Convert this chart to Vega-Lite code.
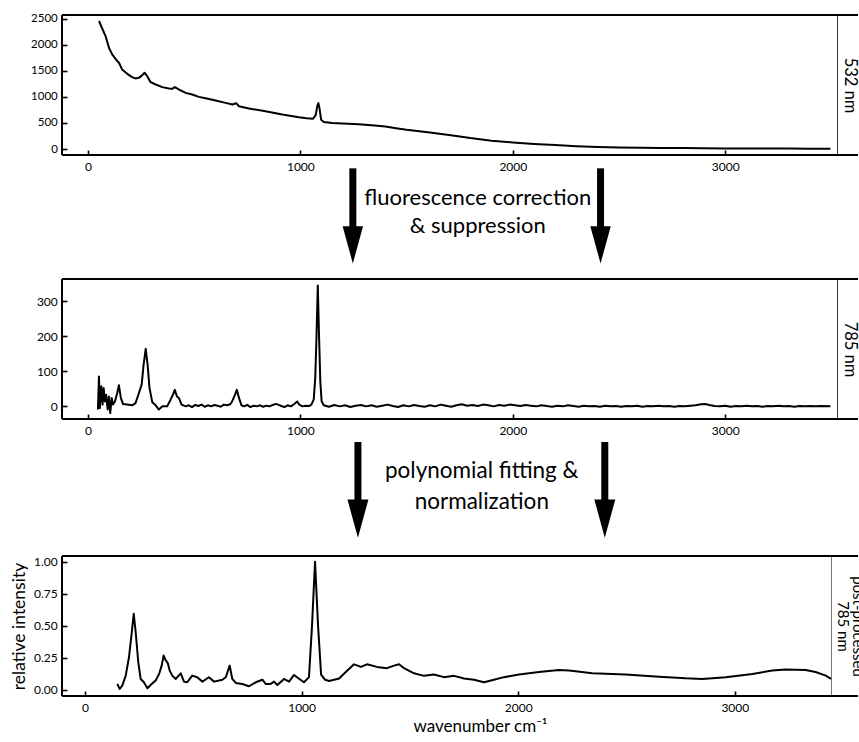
{
  "$schema": "https://vega.github.io/schema/vega-lite/v6.json",
  "padding": {"left": 10, "top": 12, "right": 0, "bottom": 0},
  "background": "white",
  "spacing": 0,
  "bounds": "flush",
  "config": {
    "font": "Lato",
    "view": {"stroke": null},
    "axis": {
      "grid": false,
      "labelFont": "Lato",
      "labelColor": "black",
      "labelFontSize": 12,
      "tickColor": "black",
      "tickSize": 5,
      "tickWidth": 1.6,
      "offset": -5,
      "domain": false,
      "titleFont": "Lato",
      "titleFontWeight": "normal",
      "titleColor": "black"
    }
  },
  "datasets": {
    "p1": [
      {"wn": 52, "v": 2456}, {"wn": 83, "v": 2167}, {"wn": 99, "v": 1942}, {"wn": 114, "v": 1815},
      {"wn": 138, "v": 1687}, {"wn": 146, "v": 1654}, {"wn": 161, "v": 1527}, {"wn": 185, "v": 1442},
      {"wn": 208, "v": 1379}, {"wn": 224, "v": 1354}, {"wn": 240, "v": 1365}, {"wn": 256, "v": 1417},
      {"wn": 267, "v": 1462}, {"wn": 279, "v": 1398}, {"wn": 295, "v": 1283}, {"wn": 319, "v": 1238},
      {"wn": 350, "v": 1187}, {"wn": 381, "v": 1161}, {"wn": 397, "v": 1154}, {"wn": 409, "v": 1187},
      {"wn": 428, "v": 1142}, {"wn": 460, "v": 1077}, {"wn": 491, "v": 1046}, {"wn": 522, "v": 1000},
      {"wn": 554, "v": 975}, {"wn": 601, "v": 931}, {"wn": 648, "v": 885}, {"wn": 680, "v": 854},
      {"wn": 698, "v": 879}, {"wn": 711, "v": 821}, {"wn": 758, "v": 777}, {"wn": 836, "v": 725},
      {"wn": 915, "v": 662}, {"wn": 993, "v": 610}, {"wn": 1030, "v": 590}, {"wn": 1060, "v": 580},
      {"wn": 1072, "v": 650}, {"wn": 1080, "v": 830}, {"wn": 1085, "v": 880}, {"wn": 1090, "v": 780},
      {"wn": 1098, "v": 560}, {"wn": 1110, "v": 520}, {"wn": 1150, "v": 500}, {"wn": 1200, "v": 490},
      {"wn": 1275, "v": 475}, {"wn": 1350, "v": 450}, {"wn": 1400, "v": 430}, {"wn": 1450, "v": 400},
      {"wn": 1500, "v": 370}, {"wn": 1600, "v": 320}, {"wn": 1700, "v": 270}, {"wn": 1800, "v": 210},
      {"wn": 1900, "v": 160}, {"wn": 2000, "v": 125}, {"wn": 2100, "v": 98}, {"wn": 2200, "v": 75},
      {"wn": 2300, "v": 55}, {"wn": 2400, "v": 40}, {"wn": 2500, "v": 30}, {"wn": 2600, "v": 24},
      {"wn": 2700, "v": 20}, {"wn": 2800, "v": 17}, {"wn": 2900, "v": 14}, {"wn": 3000, "v": 12},
      {"wn": 3100, "v": 10}, {"wn": 3200, "v": 9}, {"wn": 3300, "v": 8}, {"wn": 3400, "v": 7},
      {"wn": 3495, "v": 6}
    ],
    "p2": [
      {"wn": 47, "v": -9}, {"wn": 52, "v": 85}, {"wn": 56, "v": -5}, {"wn": 63, "v": 57},
      {"wn": 69, "v": 5}, {"wn": 74, "v": 52}, {"wn": 80, "v": 14}, {"wn": 86, "v": 33},
      {"wn": 93, "v": -9}, {"wn": 99, "v": 28}, {"wn": 105, "v": -19}, {"wn": 112, "v": 24},
      {"wn": 118, "v": 5}, {"wn": 127, "v": 14}, {"wn": 138, "v": 38}, {"wn": 146, "v": 60},
      {"wn": 155, "v": 24}, {"wn": 165, "v": 7}, {"wn": 185, "v": 5}, {"wn": 208, "v": 3},
      {"wn": 224, "v": 9}, {"wn": 240, "v": 38}, {"wn": 253, "v": 62}, {"wn": 262, "v": 118},
      {"wn": 272, "v": 164}, {"wn": 281, "v": 118}, {"wn": 290, "v": 52}, {"wn": 303, "v": 12},
      {"wn": 319, "v": 3}, {"wn": 334, "v": -9}, {"wn": 350, "v": 0}, {"wn": 373, "v": 0},
      {"wn": 389, "v": 19}, {"wn": 400, "v": 33}, {"wn": 409, "v": 47}, {"wn": 419, "v": 28},
      {"wn": 428, "v": 24}, {"wn": 441, "v": 5}, {"wn": 460, "v": 0}, {"wn": 475, "v": 3},
      {"wn": 490, "v": -2}, {"wn": 505, "v": 4}, {"wn": 520, "v": 1}, {"wn": 535, "v": 5},
      {"wn": 550, "v": -1}, {"wn": 565, "v": 3}, {"wn": 580, "v": 0}, {"wn": 595, "v": 4},
      {"wn": 610, "v": 2}, {"wn": 625, "v": -1}, {"wn": 640, "v": 5}, {"wn": 655, "v": 3},
      {"wn": 670, "v": 6}, {"wn": 679, "v": 14}, {"wn": 692, "v": 33}, {"wn": 701, "v": 47},
      {"wn": 711, "v": 24}, {"wn": 723, "v": 3}, {"wn": 735, "v": 0}, {"wn": 750, "v": 4},
      {"wn": 765, "v": -2}, {"wn": 780, "v": 2}, {"wn": 795, "v": 0}, {"wn": 810, "v": 3},
      {"wn": 825, "v": -1}, {"wn": 840, "v": 2}, {"wn": 855, "v": 0}, {"wn": 870, "v": 4},
      {"wn": 885, "v": 7}, {"wn": 895, "v": 5}, {"wn": 910, "v": 1}, {"wn": 925, "v": -2},
      {"wn": 940, "v": 3}, {"wn": 955, "v": 0}, {"wn": 970, "v": 6}, {"wn": 985, "v": 14},
      {"wn": 995, "v": 5}, {"wn": 1010, "v": 0}, {"wn": 1025, "v": 2}, {"wn": 1040, "v": 1},
      {"wn": 1052, "v": 5}, {"wn": 1063, "v": 20}, {"wn": 1070, "v": 80}, {"wn": 1076, "v": 200},
      {"wn": 1082, "v": 344}, {"wn": 1088, "v": 200}, {"wn": 1094, "v": 70}, {"wn": 1100, "v": 15},
      {"wn": 1110, "v": 3}, {"wn": 1135, "v": -1}, {"wn": 1160, "v": 4}, {"wn": 1185, "v": 0},
      {"wn": 1210, "v": 3}, {"wn": 1235, "v": -2}, {"wn": 1260, "v": 2}, {"wn": 1285, "v": 4},
      {"wn": 1310, "v": 0}, {"wn": 1335, "v": 3}, {"wn": 1360, "v": -1}, {"wn": 1385, "v": 2},
      {"wn": 1410, "v": 5}, {"wn": 1435, "v": 1}, {"wn": 1460, "v": -2}, {"wn": 1485, "v": 3},
      {"wn": 1510, "v": 0}, {"wn": 1535, "v": 4}, {"wn": 1560, "v": 1}, {"wn": 1585, "v": -1},
      {"wn": 1610, "v": 3}, {"wn": 1635, "v": 0}, {"wn": 1660, "v": 5}, {"wn": 1685, "v": 2},
      {"wn": 1710, "v": -1}, {"wn": 1735, "v": 3}, {"wn": 1760, "v": 6}, {"wn": 1785, "v": 2},
      {"wn": 1810, "v": 4}, {"wn": 1835, "v": 1}, {"wn": 1860, "v": 5}, {"wn": 1885, "v": 3},
      {"wn": 1910, "v": 0}, {"wn": 1935, "v": 4}, {"wn": 1960, "v": 2}, {"wn": 1985, "v": 5},
      {"wn": 2010, "v": 3}, {"wn": 2035, "v": 1}, {"wn": 2060, "v": 4}, {"wn": 2085, "v": 2},
      {"wn": 2110, "v": 0}, {"wn": 2135, "v": 3}, {"wn": 2160, "v": 1}, {"wn": 2185, "v": -1},
      {"wn": 2210, "v": 2}, {"wn": 2235, "v": 0}, {"wn": 2260, "v": 3}, {"wn": 2285, "v": 1},
      {"wn": 2310, "v": -1}, {"wn": 2335, "v": 2}, {"wn": 2360, "v": 0}, {"wn": 2385, "v": 1},
      {"wn": 2410, "v": -1}, {"wn": 2435, "v": 2}, {"wn": 2460, "v": 0}, {"wn": 2485, "v": 1},
      {"wn": 2510, "v": -1}, {"wn": 2535, "v": 1}, {"wn": 2560, "v": 0}, {"wn": 2585, "v": 2},
      {"wn": 2610, "v": -1}, {"wn": 2635, "v": 1}, {"wn": 2660, "v": 0}, {"wn": 2685, "v": 2},
      {"wn": 2710, "v": 0}, {"wn": 2735, "v": 1}, {"wn": 2760, "v": -1}, {"wn": 2785, "v": 1},
      {"wn": 2810, "v": 0}, {"wn": 2835, "v": 2}, {"wn": 2860, "v": 3}, {"wn": 2885, "v": 6},
      {"wn": 2905, "v": 7}, {"wn": 2925, "v": 4}, {"wn": 2950, "v": 1}, {"wn": 2975, "v": 0},
      {"wn": 3000, "v": 2}, {"wn": 3025, "v": -1}, {"wn": 3050, "v": 1}, {"wn": 3075, "v": 0},
      {"wn": 3100, "v": 2}, {"wn": 3125, "v": 0}, {"wn": 3150, "v": 1}, {"wn": 3175, "v": -1},
      {"wn": 3200, "v": 1}, {"wn": 3225, "v": 0}, {"wn": 3250, "v": 2}, {"wn": 3275, "v": 0},
      {"wn": 3300, "v": 1}, {"wn": 3325, "v": -1}, {"wn": 3350, "v": 1}, {"wn": 3375, "v": 0},
      {"wn": 3400, "v": 1}, {"wn": 3425, "v": 0}, {"wn": 3450, "v": 1}, {"wn": 3495, "v": 0}
    ],
    "p3": [
      {"wn": 149, "v": 0.047}, {"wn": 160, "v": 0.008}, {"wn": 172, "v": 0.034}, {"wn": 188, "v": 0.112},
      {"wn": 203, "v": 0.255}, {"wn": 216, "v": 0.45}, {"wn": 225, "v": 0.594}, {"wn": 234, "v": 0.45},
      {"wn": 246, "v": 0.216}, {"wn": 257, "v": 0.086}, {"wn": 272, "v": 0.06}, {"wn": 288, "v": 0.013},
      {"wn": 303, "v": 0.039}, {"wn": 326, "v": 0.073}, {"wn": 342, "v": 0.125}, {"wn": 354, "v": 0.19},
      {"wn": 363, "v": 0.268}, {"wn": 373, "v": 0.23}, {"wn": 382, "v": 0.21}, {"wn": 391, "v": 0.151},
      {"wn": 403, "v": 0.112}, {"wn": 419, "v": 0.086}, {"wn": 442, "v": 0.13}, {"wn": 457, "v": 0.065},
      {"wn": 472, "v": 0.06}, {"wn": 495, "v": 0.112}, {"wn": 518, "v": 0.099}, {"wn": 542, "v": 0.065},
      {"wn": 572, "v": 0.099}, {"wn": 596, "v": 0.065}, {"wn": 634, "v": 0.08}, {"wn": 650, "v": 0.099},
      {"wn": 668, "v": 0.19}, {"wn": 680, "v": 0.086}, {"wn": 696, "v": 0.055}, {"wn": 726, "v": 0.047},
      {"wn": 757, "v": 0.029}, {"wn": 788, "v": 0.06}, {"wn": 819, "v": 0.08}, {"wn": 834, "v": 0.047},
      {"wn": 857, "v": 0.047}, {"wn": 873, "v": 0.065}, {"wn": 888, "v": 0.039}, {"wn": 919, "v": 0.086},
      {"wn": 942, "v": 0.065}, {"wn": 965, "v": 0.117}, {"wn": 985, "v": 0.091}, {"wn": 1011, "v": 0.06},
      {"wn": 1034, "v": 0.1}, {"wn": 1048, "v": 0.5}, {"wn": 1062, "v": 1.0}, {"wn": 1076, "v": 0.5},
      {"wn": 1090, "v": 0.12}, {"wn": 1108, "v": 0.08}, {"wn": 1127, "v": 0.07}, {"wn": 1173, "v": 0.09},
      {"wn": 1210, "v": 0.15}, {"wn": 1242, "v": 0.2}, {"wn": 1274, "v": 0.18}, {"wn": 1302, "v": 0.2},
      {"wn": 1348, "v": 0.18}, {"wn": 1394, "v": 0.17}, {"wn": 1427, "v": 0.19}, {"wn": 1450, "v": 0.2},
      {"wn": 1473, "v": 0.17}, {"wn": 1519, "v": 0.13}, {"wn": 1565, "v": 0.11}, {"wn": 1611, "v": 0.12},
      {"wn": 1657, "v": 0.1}, {"wn": 1704, "v": 0.11}, {"wn": 1750, "v": 0.09}, {"wn": 1796, "v": 0.08},
      {"wn": 1842, "v": 0.06}, {"wn": 1888, "v": 0.08}, {"wn": 1934, "v": 0.1}, {"wn": 2004, "v": 0.12},
      {"wn": 2096, "v": 0.14}, {"wn": 2188, "v": 0.156}, {"wn": 2235, "v": 0.151}, {"wn": 2342, "v": 0.13},
      {"wn": 2496, "v": 0.12}, {"wn": 2650, "v": 0.104}, {"wn": 2773, "v": 0.091}, {"wn": 2850, "v": 0.086},
      {"wn": 2958, "v": 0.099}, {"wn": 3081, "v": 0.125}, {"wn": 3173, "v": 0.151}, {"wn": 3235, "v": 0.159},
      {"wn": 3327, "v": 0.156}, {"wn": 3373, "v": 0.14}, {"wn": 3420, "v": 0.112}, {"wn": 3444, "v": 0.086}
    ],
    "arrows1": [
      {"wn": 1247, "top": 0.108, "headTop": 0.6, "head": 0.727},
      {"wn": 2413, "top": 0.108, "headTop": 0.6, "head": 0.727}
    ],
    "labels1": [
      {"wn": 1835, "line": 0.401, "label": "fluorescence correction"},
      {"wn": 1835, "line": 0.631, "label": "& suppression"}
    ],
    "arrows2": [
      {"wn": 1271, "top": 0.169, "headTop": 0.6, "head": 0.731},
      {"wn": 2433, "top": 0.169, "headTop": 0.6, "head": 0.731}
    ],
    "labels2": [
      {"wn": 1854, "line": 0.433, "label": "polynomial fitting &"},
      {"wn": 1854, "line": 0.657, "label": "normalization"}
    ]
  },
  "vconcat": [
    {
      "width": 775,
      "height": 140,
      "resolve": {"axis": {"x": "independent", "y": "independent"}},
      "layer": [
        {
          "data": {"name": "p1"},
          "mark": {"type": "line", "color": "black", "strokeWidth": 2, "strokeJoin": "round"},
          "encoding": {
            "x": {"field": "wn", "type": "quantitative", "scale": {"domain": [-122, 3526], "nice": false, "zero": false},
                  "axis": {"values": [0, 1000, 2000, 3000], "title": null, "labelPadding": 6, "format": "d"}},
            "y": {"field": "v", "type": "quantitative", "scale": {"domain": [-115, 2571], "nice": false, "zero": false},
                  "axis": {"values": [0, 500, 1000, 1500, 2000, 2500], "title": null, "labelPadding": 4.7, "labelFontSize": 11.5, "format": "d"}}
          }
        },
        {
          "data": {"values": [{"edge": "top"}]},
          "mark": {"type": "rule", "color": "black", "strokeWidth": 2, "clip": false},
          "encoding": {
            "x": {"datum": -122, "type": "quantitative", "axis": null},
            "x2": {"datum": 3625},
            "y": {"datum": 2571, "type": "quantitative",
                  "axis": {"orient": "right", "offset": 0, "domain": true, "domainColor": "black", "domainWidth": 0.8, "ticks": false, "labels": false, "title": "532 nm", "titleAngle": 90, "titlePadding": 4, "titleFontSize": 16.5}}
          }
        },
        {
          "data": {"values": [{"edge": "bottom"}]},
          "mark": {"type": "rule", "color": "black", "strokeWidth": 2, "clip": false},
          "encoding": {
            "x": {"datum": -122, "type": "quantitative", "axis": null},
            "x2": {"datum": 3625},
            "y": {"datum": -115, "type": "quantitative", "axis": null}
          }
        },
        {
          "data": {"values": [{"edge": "left"}]},
          "mark": {"type": "rule", "color": "black", "strokeWidth": 2, "clip": false},
          "encoding": {
            "x": {"datum": -122, "type": "quantitative", "axis": null},
            "y": {"datum": -115, "type": "quantitative", "axis": null},
            "y2": {"datum": 2571}
          }
        }
      ]
    },
    {
      "width": 775,
      "height": 123.6,
      "layer": [
        {
          "data": {"name": "arrows1"},
          "mark": {"type": "rule", "color": "black", "strokeWidth": 7},
          "encoding": {
            "x": {"field": "wn", "type": "quantitative", "scale": {"domain": [-122, 3526], "nice": false, "zero": false}, "axis": null},
            "y": {"field": "top", "type": "quantitative", "scale": {"domain": [0, 1], "reverse": true, "nice": false}, "axis": null},
            "y2": {"field": "headTop"}
          }
        },
        {
          "data": {"name": "arrows1"},
          "mark": {"type": "point", "shape": "M-0.55,-1L0.55,-1L0,1Z", "size": 1380, "filled": true, "color": "black", "opacity": 1},
          "encoding": {
            "x": {"field": "wn", "type": "quantitative"},
            "y": {"field": "head", "type": "quantitative"}
          }
        },
        {
          "data": {"name": "labels1"},
          "mark": {"type": "text", "font": "Lato", "fontSize": 22, "align": "center", "baseline": "alphabetic", "color": "black"},
          "encoding": {
            "x": {"field": "wn", "type": "quantitative"},
            "y": {"field": "line", "type": "quantitative"},
            "text": {"field": "label"}
          }
        }
      ]
    },
    {
      "width": 775,
      "height": 140,
      "resolve": {"axis": {"x": "independent", "y": "independent"}},
      "layer": [
        {
          "data": {"name": "p2"},
          "mark": {"type": "line", "color": "black", "strokeWidth": 2, "strokeJoin": "round"},
          "encoding": {
            "x": {"field": "wn", "type": "quantitative", "scale": {"domain": [-122, 3526], "nice": false, "zero": false},
                  "axis": {"values": [0, 1000, 2000, 3000], "title": null, "labelPadding": 6, "format": "d"}},
            "y": {"field": "v", "type": "quantitative", "scale": {"domain": [-36, 362.8], "nice": false, "zero": false},
                  "axis": {"values": [0, 100, 200, 300], "title": null, "labelPadding": 4.7, "labelFontSize": 12, "format": "d"}}
          }
        },
        {
          "data": {"values": [{"edge": "top"}]},
          "mark": {"type": "rule", "color": "black", "strokeWidth": 2, "clip": false},
          "encoding": {
            "x": {"datum": -122, "type": "quantitative", "axis": null},
            "x2": {"datum": 3625},
            "y": {"datum": 362.8, "type": "quantitative",
                  "axis": {"orient": "right", "offset": 0, "domain": true, "domainColor": "black", "domainWidth": 0.8, "ticks": false, "labels": false, "title": "785 nm", "titleAngle": 90, "titlePadding": 4, "titleFontSize": 16.5}}
          }
        },
        {
          "data": {"values": [{"edge": "bottom"}]},
          "mark": {"type": "rule", "color": "black", "strokeWidth": 2, "clip": false},
          "encoding": {
            "x": {"datum": -122, "type": "quantitative", "axis": null},
            "x2": {"datum": 3625},
            "y": {"datum": -36, "type": "quantitative", "axis": null}
          }
        },
        {
          "data": {"values": [{"edge": "left"}]},
          "mark": {"type": "rule", "color": "black", "strokeWidth": 2, "clip": false},
          "encoding": {
            "x": {"datum": -122, "type": "quantitative", "axis": null},
            "y": {"datum": -36, "type": "quantitative", "axis": null},
            "y2": {"datum": 362.8}
          }
        }
      ]
    },
    {
      "width": 775,
      "height": 136.3,
      "layer": [
        {
          "data": {"name": "arrows2"},
          "mark": {"type": "rule", "color": "black", "strokeWidth": 7},
          "encoding": {
            "x": {"field": "wn", "type": "quantitative", "scale": {"domain": [-122, 3526], "nice": false, "zero": false}, "axis": null},
            "y": {"field": "top", "type": "quantitative", "scale": {"domain": [0, 1], "reverse": true, "nice": false}, "axis": null},
            "y2": {"field": "headTop"}
          }
        },
        {
          "data": {"name": "arrows2"},
          "mark": {"type": "point", "shape": "M-0.55,-1L0.55,-1L0,1Z", "size": 1450, "filled": true, "color": "black", "opacity": 1},
          "encoding": {
            "x": {"field": "wn", "type": "quantitative"},
            "y": {"field": "head", "type": "quantitative"}
          }
        },
        {
          "data": {"name": "labels2"},
          "mark": {"type": "text", "font": "Lato", "fontSize": 22.5, "align": "center", "baseline": "alphabetic", "color": "black"},
          "encoding": {
            "x": {"field": "wn", "type": "quantitative"},
            "y": {"field": "line", "type": "quantitative"},
            "text": {"field": "label"}
          }
        }
      ]
    },
    {
      "width": 769,
      "height": 140,
      "resolve": {"axis": {"x": "independent", "y": "independent"}},
      "layer": [
        {
          "data": {"name": "p3"},
          "mark": {"type": "line", "color": "black", "strokeWidth": 2, "strokeJoin": "round"},
          "encoding": {
            "x": {"field": "wn", "type": "quantitative", "scale": {"domain": [-106.2, 3444.1], "nice": false, "zero": false},
                  "axis": {"values": [0, 1000, 2000, 3000], "title": "wavenumber cm⁻¹", "titleFontSize": 17, "titleBaseline": "alphabetic", "titleY": 40, "titleX": 418, "labelPadding": 6, "format": "d"}},
            "y": {"field": "v", "type": "quantitative", "scale": {"domain": [-0.047, 1.0445], "nice": false, "zero": false},
                  "axis": {"values": [0, 0.25, 0.5, 0.75, 1], "title": "relative intensity", "titleFontSize": 17.5, "titlePadding": 5, "labelPadding": 4.7, "labelFontSize": 12, "format": ".2f"}}
          }
        },
        {
          "data": {"values": [{"edge": "top"}]},
          "mark": {"type": "rule", "color": "black", "strokeWidth": 2, "clip": false},
          "encoding": {
            "x": {"datum": -106.2, "type": "quantitative", "axis": null},
            "x2": {"datum": 3569},
            "y": {"datum": 1.0445, "type": "quantitative",
                  "axis": {"orient": "right", "offset": 0, "domain": true, "domainColor": "#555555", "domainWidth": 0.8, "ticks": false, "labels": false, "title": ["post-processed", "785 nm"], "titleAngle": 90, "titlePadding": 3, "titleFontSize": 15, "titleLineHeight": 15}}
          }
        },
        {
          "data": {"values": [{"edge": "bottom"}]},
          "mark": {"type": "rule", "color": "black", "strokeWidth": 2, "clip": false},
          "encoding": {
            "x": {"datum": -106.2, "type": "quantitative", "axis": null},
            "x2": {"datum": 3569},
            "y": {"datum": -0.047, "type": "quantitative", "axis": null}
          }
        },
        {
          "data": {"values": [{"edge": "left"}]},
          "mark": {"type": "rule", "color": "black", "strokeWidth": 2, "clip": false},
          "encoding": {
            "x": {"datum": -106.2, "type": "quantitative", "axis": null},
            "y": {"datum": -0.047, "type": "quantitative", "axis": null},
            "y2": {"datum": 1.0445}
          }
        }
      ]
    }
  ]
}
